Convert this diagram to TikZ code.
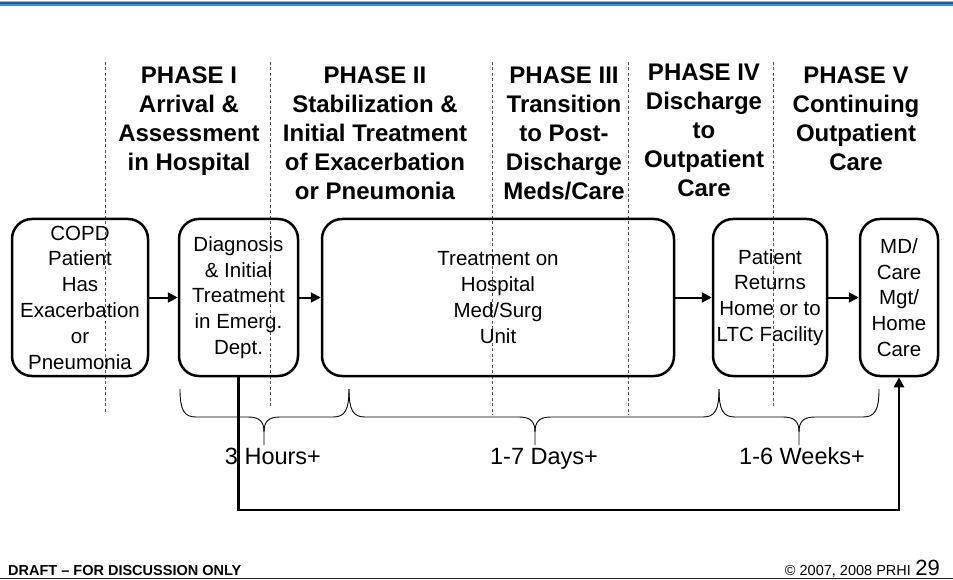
\documentclass[tikz,border=0pt]{standalone}
\usepackage{fontspec}
\setmainfont{Liberation Sans}
\usetikzlibrary{arrows.meta}

\definecolor{bandlight}{HTML}{8DB3D9}
\definecolor{banddark}{HTML}{1B5E8F}
\definecolor{bandmid}{HTML}{3C8FCF}
\definecolor{divgray}{HTML}{555555}

\tikzset{
  stage/.style={draw, line width=2.5pt, rounded corners=20pt, inner sep=0pt,
    align=center, font=\fontsize{20.5}{25.8}\selectfont},
  phasehead/.style={anchor=north, inner sep=0pt, align=center,
    font=\fontsize{24}{29}\selectfont\bfseries},
  divider/.style={line width=0.8pt, divgray, dash pattern=on 3pt off 2.5pt},
  flow/.style={line width=2pt, -{Triangle[length=10pt,width=10pt]}},
  bracepath/.style={line width=0.9pt},
  spanlabel/.style={anchor=base, inner sep=0pt, font=\fontsize{23.5}{26}\selectfont},
}

\begin{document}
\begin{tikzpicture}[x=1pt,y=-1pt]
\useasboundingbox (0,0) rectangle (953,580);

% title band at the top
\fill[bandlight] (0,1.5) rectangle (953,2.5);
\fill[banddark]  (0,2.5) rectangle (953,4.5);
\fill[bandmid]   (0,4.5) rectangle (953,5.8);

% phase dividers
\draw[divider] (105,62) -- (105,412);
\draw[divider] (270,62) -- (270,408);
\draw[divider] (492,62) -- (492,415);
\draw[divider] (628,62) -- (628,415);
\draw[divider] (773,62) -- (773,408);

% phase headings
\node[phasehead] (ph1) at (189,66.5) {PHASE I\\Arrival \&\\Assessment\\in Hospital};
\node[phasehead] (ph2) at (375,66.5) {PHASE II\\Stabilization \&\\Initial Treatment\\of Exacerbation\\or Pneumonia};
\node[phasehead] (ph3) at (564,66.5) {PHASE III\\Transition\\to Post-\\Discharge\\Meds/Care};
\node[phasehead] (ph4) at (704,63.5) {PHASE IV\\Discharge\\to\\Outpatient\\Care};
\node[phasehead] (ph5) at (856,66.5) {PHASE V\\Continuing\\Outpatient\\Care};

% stages of care
\node[stage, minimum width=136pt, minimum height=157pt] (copd) at (80,297.5)
  {COPD\\Patient\\Has\\Exacerbation\\or\\Pneumonia};
\node[stage, minimum width=119pt, minimum height=157pt] (diag) at (238.5,297.5)
  {Diagnosis\\\& Initial\\Treatment\\in Emerg.\\Dept.};
\node[stage, minimum width=352pt, minimum height=157pt] (ward) at (498,297.5)
  {Treatment on\\Hospital\\Med/Surg\\Unit};
\node[stage, minimum width=114pt, minimum height=157pt] (home) at (770,297.5)
  {Patient\\Returns\\Home or to\\LTC Facility};
\node[stage, minimum width=78pt, minimum height=157pt] (md) at (899,297.5)
  {MD/\\Care\\Mgt/\\Home\\Care};

% forward flow
\draw[flow] (copd) -- (diag);
\draw[flow] (diag) -- (ward);
\draw[flow] (ward) -- (home);
\draw[flow] (home) -- (md);

% follow-up loop from the emergency department to outpatient care
\coordinate (loopbase) at (0,510);
\draw[flow, line width=2.5pt] (diag.south) -- (diag.south |- loopbase) -| (md.south);

% duration braces
\foreach \xa/\xm/\xb in {180/264/349, 349/535/719, 719/799/879}{
  \draw[bracepath] (\xa,389) .. controls (\xa,410) and (\xa+4,417) .. (\xa+16,417)
    -- (\xm-16,417) .. controls (\xm-4,417) and (\xm,422) .. (\xm,432) -- (\xm,445);
  \draw[bracepath] (\xm,432) .. controls (\xm,422) and (\xm+4,417) .. (\xm+16,417)
    -- (\xb-16,417) .. controls (\xb-4,417) and (\xb,410) .. (\xb,389);
}
\node[spanlabel] (hrs) at (273,464) {3 Hours+};
\node[spanlabel] (days) at (544,464) {1-7 Days+};
\node[spanlabel] (weeks) at (802,464) {1-6 Weeks+};

% footer
\draw[line width=1.5pt, black!85] (0,578.5) -- (953,578.5);
\node[anchor=base west, inner sep=0pt, font=\fontsize{14.5}{16}\selectfont\bfseries]
  (draft) at (8,575) {DRAFT – FOR DISCUSSION ONLY};
\node[anchor=base east, inner sep=0pt, font=\fontsize{22}{24}\selectfont]
  (pageno) at (940,575) {29};
\node[anchor=base east, inner sep=0pt, font=\fontsize{14.5}{16}\selectfont]
  (copy) at ([xshift=-4pt]pageno.base west) {© 2007, 2008 PRHI};
\end{tikzpicture}
\end{document}
